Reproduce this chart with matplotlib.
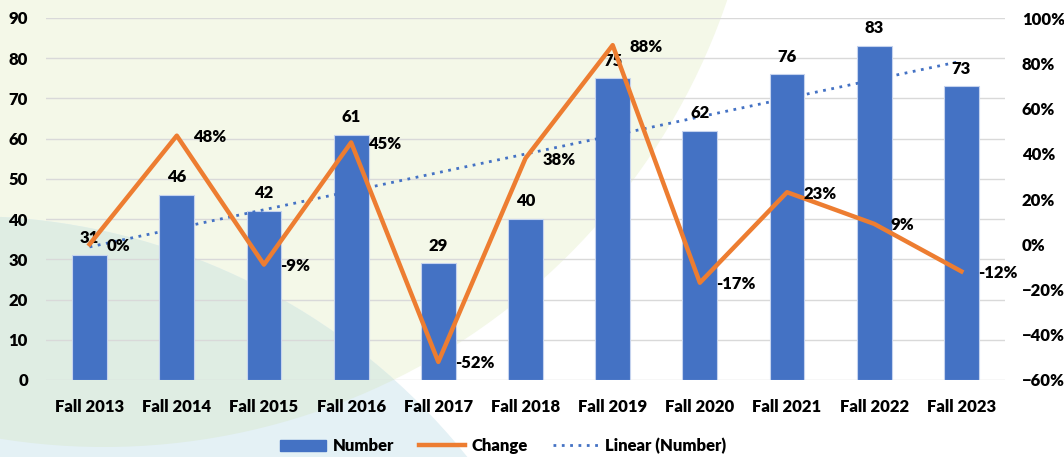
import numpy as np
import matplotlib.pyplot as plt
from matplotlib.patches import Circle, Patch
from matplotlib.lines import Line2D
from matplotlib.ticker import PercentFormatter

plt.rcParams['font.family'] = ['Lato', 'DejaVu Sans']
plt.rcParams['font.weight'] = 'heavy'
plt.rcParams['font.size'] = 12

# datos
terms = ['Fall 2013', 'Fall 2014', 'Fall 2015', 'Fall 2016', 'Fall 2017', 'Fall 2018',
         'Fall 2019', 'Fall 2020', 'Fall 2021', 'Fall 2022', 'Fall 2023']
number = [31, 46, 42, 61, 29, 40, 75, 62, 76, 83, 73]
change = [0, 48, -9, 45, -52, 38, 88, -17, 23, 9, -12]

blue = '#4472c4'
orange = '#ed7d31'
fw = 'heavy'

fig = plt.figure(figsize=(10.64, 4.57), dpi=100)

# fondo con las formas decorativas (en pixeles)
bg = fig.add_axes([0, 0, 1, 1], zorder=0)
bg.set_xlim(0, 1064)
bg.set_ylim(457, 0)
bg.axis('off')
green_c = Circle((104, -211), 658, color='#f4f8e8', lw=0)
blue_c = Circle((-34, 858), 642, color='#e4f1f5', lw=0)
bg.add_patch(green_c)
bg.add_patch(blue_c)
overlap = Circle((104, -211), 658, color='#dfede3', lw=0)
bg.add_patch(overlap)
overlap.set_clip_path(blue_c)

ax = fig.add_axes([46 / 1064, 1 - 380 / 457, (1005 - 46) / 1064, (380 - 18) / 457], zorder=1)
ax.set_facecolor('none')
x = np.arange(len(terms))

bars = ax.bar(x, number, width=0.4, color=blue, edgecolor='#c5d3ee', linewidth=0.8, zorder=2)
for xi, v in zip(x, number):
    ax.annotate(str(v), (xi, v), xytext=(0, 7), textcoords='offset points',
                ha='center', va='bottom', fontweight=fw, zorder=5)

# linea de tendencia
k, b0 = np.polyfit(x, number, 1)
ax.plot([x[0], x[-1]], [b0 + k * x[0], b0 + k * x[-1]], color=blue, lw=2,
        linestyle=(0, (1, 2)), zorder=4)

ax.set_xlim(-0.5, len(terms) - 0.5)
ax.set_ylim(0, 90)
ax.set_yticks(range(0, 91, 10))
ax.set_xticks(x)
ax.set_xticklabels(terms, fontweight=fw)
ax.grid(axis='y', color='#d9d9d9', lw=1, zorder=0)
ax.tick_params(length=0)
ax.tick_params(axis='y', pad=13)
ax.tick_params(axis='x', pad=14)
for s in ax.spines.values():
    s.set_visible(False)

ax2 = ax.twinx()
ax2.set_zorder(2)
ax2.plot(x, change, color=orange, lw=3.2, zorder=3)
for xi, v in zip(x, change):
    ax2.annotate(f'{v}%', (xi, v), xytext=(12, -1), textcoords='offset points',
                 ha='left', va='center', fontweight=fw)
ax2.set_ylim(-60, 100)
ax2.set_yticks(range(-60, 101, 20))
ax2.yaxis.set_major_formatter(PercentFormatter(decimals=0))
ax2.tick_params(length=0, pad=12)
for s in ax2.spines.values():
    s.set_visible(False)

handles = [Patch(color=blue), Line2D([], [], color=orange, lw=3.2),
           Line2D([], [], color=blue, lw=2, linestyle=(0, (1, 2)))]
fig.legend(handles, ['Number', 'Change', 'Linear (Number)'], loc='center',
           bbox_to_anchor=(503 / 1064, 1 - 446 / 457), ncol=3, frameon=False,
           handlelength=2.75, columnspacing=1.5, handletextpad=0.4)

fig.savefig('out.png', dpi=100)
